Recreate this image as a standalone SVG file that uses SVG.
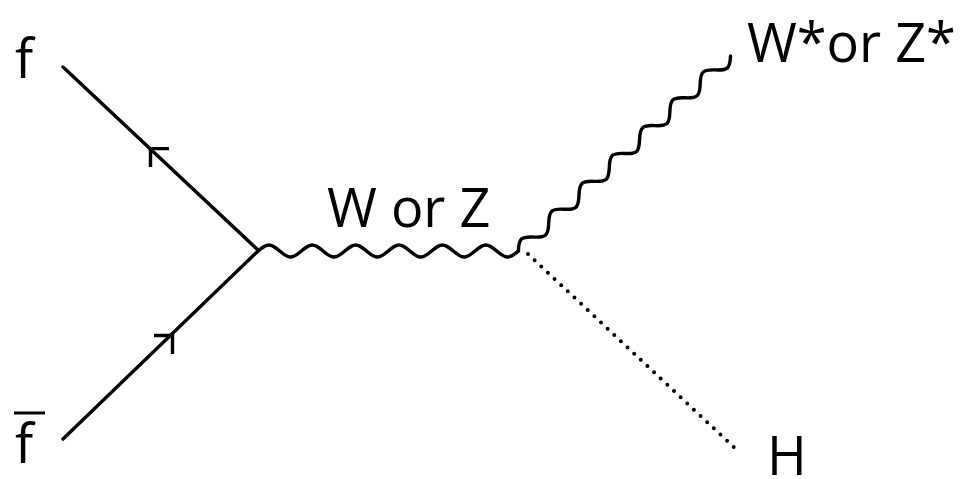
<svg xmlns="http://www.w3.org/2000/svg" width="960" height="479" viewBox="0 0 960 479">
  <style>
    .lbl { font-family: "Open Sans", "Liberation Sans", sans-serif; font-size: 54px; fill: #000; }
    .fermion { stroke: #000; stroke-width: 3.4; fill: none; stroke-linecap: round; }
    .arrow { stroke: #000; stroke-width: 3.4; fill: none; stroke-linecap: butt; stroke-linejoin: miter; }
    .boson { stroke: #000; stroke-width: 3.4; fill: none; stroke-linecap: round; stroke-linejoin: round; }
    .scalar { stroke: #000; stroke-width: 4; fill: none; stroke-linecap: round; stroke-dasharray: 0 9.1; }
  </style>
  <rect width="960" height="479" fill="#fff"/>

  <g id="connectors">
    <!-- incoming fermion f -->
    <line class="fermion" x1="63" y1="67" x2="258" y2="250"/>
    <path class="arrow" d="M169,148.6 H150.5 V167"/>
    <!-- incoming antifermion fbar -->
    <line class="fermion" x1="63" y1="439" x2="258" y2="251"/>
    <path class="arrow" d="M154,335.5 H172.5 V354"/>
    <!-- W or Z propagator -->
    <path class="boson" d="M258,251
      c 3.54,-3.07 6.92,-6 10.85,-6 c 3.93,0 7.31,2.93 10.85,6 c 3.54,3.07 6.92,6 10.85,6 c 3.93,0 7.31,-2.93 10.85,-6
      c 3.54,-3.07 6.92,-6 10.85,-6 c 3.93,0 7.31,2.93 10.85,6 c 3.54,3.07 6.92,6 10.85,6 c 3.93,0 7.31,-2.93 10.85,-6
      c 3.54,-3.07 6.92,-6 10.85,-6 c 3.93,0 7.31,2.93 10.85,6 c 3.54,3.07 6.92,6 10.85,6 c 3.93,0 7.31,-2.93 10.85,-6
      c 3.54,-3.07 6.92,-6 10.85,-6 c 3.93,0 7.31,2.93 10.85,6 c 3.54,3.07 6.92,6 10.85,6 c 3.93,0 7.31,-2.93 10.85,-6
      c 3.54,-3.07 6.92,-6 10.85,-6 c 3.93,0 7.31,2.93 10.85,6 c 3.54,3.07 6.92,6 10.85,6 c 3.93,0 7.31,-2.93 10.85,-6
      c 3.54,-3.07 6.92,-6 10.85,-6 c 3.93,0 7.31,2.93 10.85,6 c 3.54,3.07 6.92,6 10.85,6 c 3.93,0 7.31,-2.93 10.85,-6"/>
    <!-- W* or Z* outgoing -->
    <path class="boson" transform="translate(518.4,251) rotate(-42.6)" d="M0,0
      c 3.35,-3.4 6.57,-6.7 10.29,-6.7 c 3.72,0 6.94,3.3 10.29,6.7 c 3.35,3.4 6.57,6.7 10.29,6.7 c 3.72,0 6.94,-3.3 10.29,-6.7
      c 3.35,-3.4 6.57,-6.7 10.29,-6.7 c 3.72,0 6.94,3.3 10.29,6.7 c 3.35,3.4 6.57,6.7 10.29,6.7 c 3.72,0 6.94,-3.3 10.29,-6.7
      c 3.35,-3.4 6.57,-6.7 10.29,-6.7 c 3.72,0 6.94,3.3 10.29,6.7 c 3.35,3.4 6.57,6.7 10.29,6.7 c 3.72,0 6.94,-3.3 10.29,-6.7
      c 3.35,-3.4 6.57,-6.7 10.29,-6.7 c 3.72,0 6.94,3.3 10.29,6.7 c 3.35,3.4 6.57,6.7 10.29,6.7 c 3.72,0 6.94,-3.3 10.29,-6.7
      c 3.35,-3.4 6.57,-6.7 10.29,-6.7 c 3.72,0 6.94,3.3 10.29,6.7 c 3.35,3.4 6.57,6.7 10.29,6.7 c 3.72,0 6.94,-3.3 10.29,-6.7
      c 3.35,-3.4 6.57,-6.7 10.29,-6.7 c 3.72,0 6.94,3.3 10.29,6.7 c 3.35,3.4 6.57,6.7 10.29,6.7 c 3.72,0 6.94,-3.3 10.29,-6.7
      c 3.35,-3.4 6.57,-6.7 10.29,-6.7 c 3.72,0 6.94,3.3 10.29,6.7 c 3.35,3.4 6.57,6.7 10.29,6.7 c 3.72,0 6.94,-3.3 10.29,-6.7"/>
    <!-- Higgs -->
    <line class="scalar" x1="528" y1="254" x2="739" y2="452"/>
  </g>

  <g id="node-f">
    <text class="lbl" x="15" y="78">f</text>
  </g>
  <g id="node-fbar">
    <text class="lbl" x="15" y="463">f</text>
    <line x1="14" y1="413" x2="45" y2="413" stroke="#000" stroke-width="3"/>
  </g>
  <g id="label-WZ">
    <text class="lbl" x="327" y="227">W or Z</text>
  </g>
  <g id="node-WZstar">
    <text class="lbl" x="747" y="62">W*or Z*</text>
  </g>
  <g id="node-H">
    <text class="lbl" x="767" y="475">H</text>
  </g>
</svg>
